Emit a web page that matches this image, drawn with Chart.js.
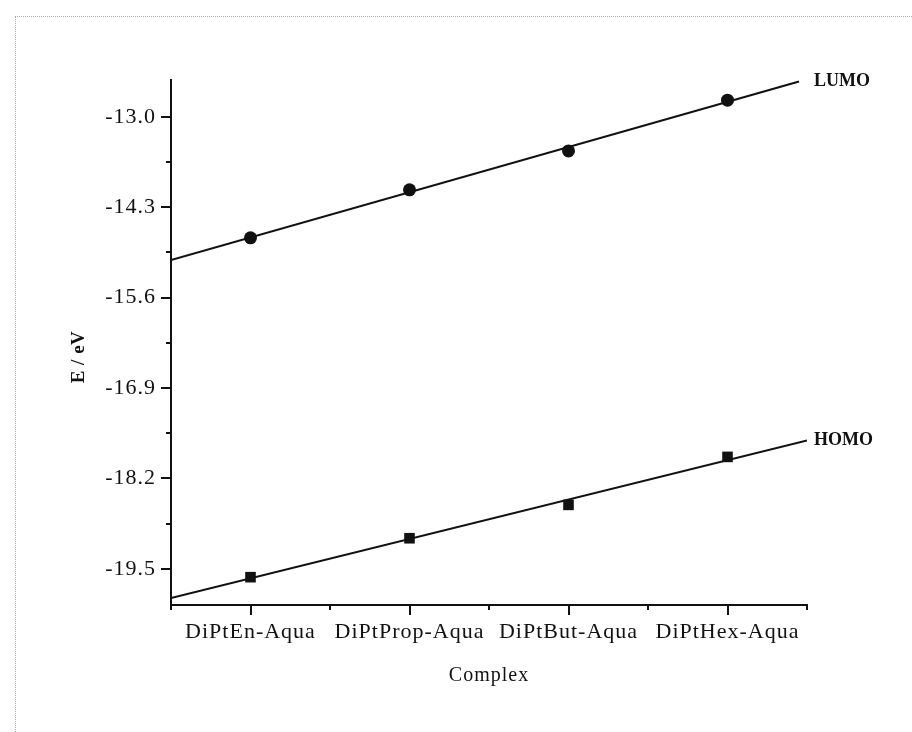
<!DOCTYPE html>
<html>
<head>
<meta charset="utf-8">
<script src="https://cdn.jsdelivr.net/npm/chart.js@4.4.1/dist/chart.umd.min.js"></script>
<style>
  html, body { margin: 0; padding: 0; background: #fff; }
  #wrap { position: relative; width: 912px; height: 732px; }
  #frame { position: absolute; left: 15px; top: 16px; right: 0; bottom: 0;
           border-top: 1px dotted #a8a8a8; border-left: 1px dotted #a8a8a8; }
  canvas { position: absolute; left: 0; top: 0; }
</style>
</head>
<body>
<div id="wrap">
  <div id="frame"></div>
  <canvas id="chart" width="912" height="732"></canvas>
</div>
<script>
// Orbital energies (eV) of the four dinuclear platinum aqua complexes
const complexes = ['DiPtEn-Aqua', 'DiPtProp-Aqua', 'DiPtBut-Aqua', 'DiPtHex-Aqua'];
const lumo = [-14.74, -14.05, -13.49, -12.76];
const homo = [-19.62, -19.06, -18.58, -17.89];

// Axis ticks
const yMajorTicks = [-19.5, -18.2, -16.9, -15.6, -14.3, -13.0];
const yMinorTicks = [-18.85, -17.55, -16.25, -14.95, -13.65];
const xMajorTicks = [0, 1, 2, 3];
const xMinorTicks = [-0.5, 0.5, 1.5, 2.5, 3.5];

// Extent of each straight-line fit along the category axis
const lumoFitRange = [-0.5, 3.45];
const homoFitRange = [-0.5, 3.5];

const SERIF = '"Liberation Serif", "Times New Roman", serif';

function points(values) {
  return values.map((v, i) => ({ x: i, y: v }));
}

// Least-squares line through a series, evaluated at the ends of its range
function fitLine(values, range) {
  const n = values.length;
  const xs = values.map((_, i) => i);
  const mx = xs.reduce((a, b) => a + b, 0) / n;
  const my = values.reduce((a, b) => a + b, 0) / n;
  let sxy = 0, sxx = 0;
  xs.forEach((x, i) => { sxy += (x - mx) * (values[i] - my); sxx += (x - mx) * (x - mx); });
  const slope = sxy / sxx;
  return range.map(x => ({ x: x, y: my + slope * (x - mx) }));
}

const lumoFit = fitLine(lumo, lumoFitRange);
const homoFit = fitLine(homo, homoFitRange);

// Slight letter spacing for the serif axis text
const spacingPlugin = {
  id: 'spacing',
  beforeLayout(chart) { chart.ctx.letterSpacing = '1px'; },
  beforeDraw(chart) { chart.ctx.letterSpacing = '1px'; }
};

// Major / minor tick marks, axis title on y, and the series labels at line ends
const decorPlugin = {
  id: 'decor',
  afterDraw(chart) {
    const ctx = chart.ctx;
    const xs = chart.scales.x, ys = chart.scales.y;
    const area = chart.chartArea;
    ctx.save();
    ctx.strokeStyle = '#111';
    ctx.lineWidth = 2;
    ctx.beginPath();
    yMajorTicks.forEach(v => { const p = Math.round(ys.getPixelForValue(v)); ctx.moveTo(area.left - 10, p); ctx.lineTo(area.left, p); });
    yMinorTicks.forEach(v => { const p = Math.round(ys.getPixelForValue(v)); ctx.moveTo(area.left - 5, p); ctx.lineTo(area.left, p); });
    xMajorTicks.forEach(v => { const p = Math.round(xs.getPixelForValue(v)); ctx.moveTo(p, area.bottom); ctx.lineTo(p, area.bottom + 10); });
    xMinorTicks.forEach(v => { const p = Math.round(xs.getPixelForValue(v)); ctx.moveTo(p, area.bottom); ctx.lineTo(p, area.bottom + 5); });
    ctx.stroke();

    // y axis title
    ctx.letterSpacing = '0.5px';
    ctx.fillStyle = '#111';
    ctx.font = 'bold 19px ' + SERIF;
    ctx.textAlign = 'center';
    ctx.textBaseline = 'middle';
    ctx.translate(79, 357);
    ctx.rotate(-Math.PI / 2);
    ctx.fillText('E / eV', 0, 0);
    ctx.setTransform(1, 0, 0, 1, 0, 0);

    // series names
    ctx.letterSpacing = '0px';
    ctx.font = 'bold 18px ' + SERIF;
    ctx.textAlign = 'left';
    const lx = xs.getPixelForValue(3.5) + 7;
    ctx.fillText('LUMO', lx, ys.getPixelForValue(lumoFit[1].y));
    ctx.fillText('HOMO', lx, ys.getPixelForValue(homoFit[1].y));
    ctx.restore();
  }
};

new Chart(document.getElementById('chart'), {
  type: 'scatter',
  data: {
    datasets: [
      { label: 'LUMO fit', data: lumoFit, showLine: true, borderColor: '#111', borderWidth: 2,
        pointRadius: 0, pointHoverRadius: 0, fill: false },
      { label: 'HOMO fit', data: homoFit, showLine: true, borderColor: '#111', borderWidth: 2,
        pointRadius: 0, pointHoverRadius: 0, fill: false },
      { label: 'LUMO', data: points(lumo), pointStyle: 'circle', pointRadius: 6.5,
        backgroundColor: '#111', borderColor: '#111', borderWidth: 0 },
      { label: 'HOMO', data: points(homo), pointStyle: 'rect', pointRadius: 7.5,
        backgroundColor: '#111', borderColor: '#111', borderWidth: 0 }
    ]
  },
  options: {
    responsive: false,
    animation: false,
    events: [],
    layout: { padding: { top: 80, right: 105, left: 0, bottom: 0 } },
    plugins: { legend: { display: false }, tooltip: { enabled: false } },
    scales: {
      x: {
        type: 'linear',
        min: -0.5,
        max: 3.5,
        afterBuildTicks(scale) { scale.ticks = xMajorTicks.map(v => ({ value: v })); },
        afterFit(scale) { scale.height = 127; },
        grid: { display: false, drawTicks: false },
        border: { display: true, color: '#111', width: 2 },
        ticks: {
          padding: 14,
          color: '#111',
          font: { family: SERIF, size: 22 },
          maxRotation: 0,
          callback: (v) => complexes[Math.round(v)] || ''
        },
        title: {
          display: true,
          text: 'Complex',
          color: '#111',
          font: { family: SERIF, size: 20 },
          padding: { top: 0, bottom: 44 }
        }
      },
      y: {
        min: -20.02,
        max: -12.47,
        afterBuildTicks(scale) { scale.ticks = yMajorTicks.map(v => ({ value: v })); },
        afterFit(scale) { scale.width = 171; },
        grid: { display: false, drawTicks: false },
        border: { display: true, color: '#111', width: 2 },
        ticks: {
          padding: 15,
          color: '#111',
          font: { family: SERIF, size: 22 },
          callback: (v) => v.toFixed(1)
        }
      }
    }
  },
  plugins: [spacingPlugin, decorPlugin]
});
</script>
</body>
</html>
